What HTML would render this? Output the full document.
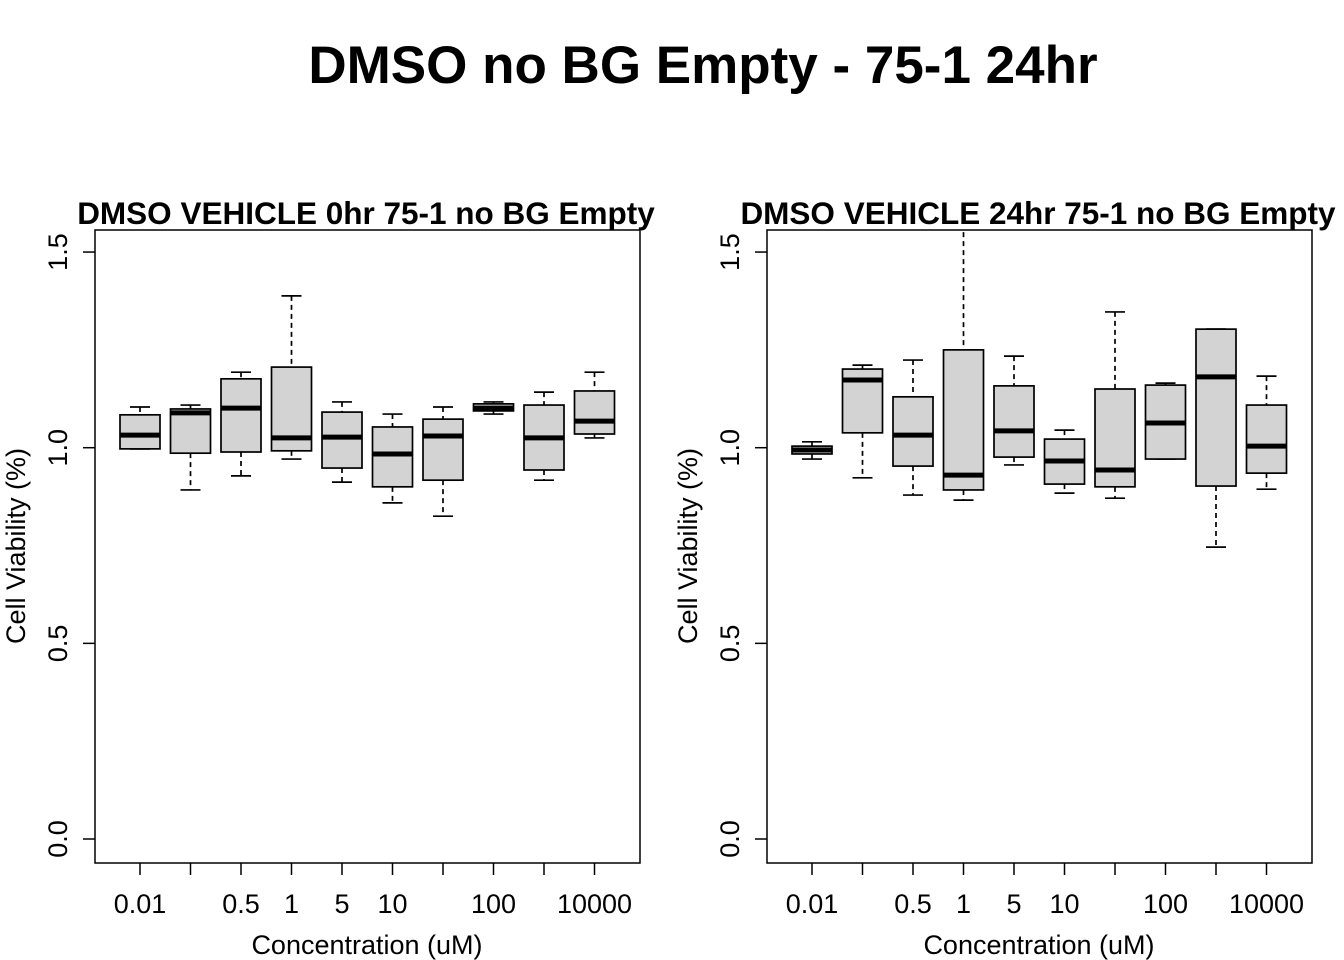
<!DOCTYPE html>
<html><head><meta charset="utf-8"><style>
body{margin:0;background:#fff}
svg{display:block;font-family:"Liberation Sans",Arial,sans-serif}
</style></head><body>
<svg id="c" width="1344" height="960">
<text x="703" y="83" text-anchor="middle" font-size="53" font-weight="bold">DMSO no BG Empty - 75-1 24hr</text>
</svg>
<script>
const categories=["0.01","0.1","0.5","1","5","10","50","100","1000","10000"];
const tickLabels=["0.01","","0.5","1","5","10","","100","","10000"];
const yTicks=[0,0.5,1,1.5];
const titles=["DMSO VEHICLE 0hr 75-1 no BG Empty","DMSO VEHICLE 24hr 75-1 no BG Empty"];
// [lowWhisker, Q1, median, Q3, highWhisker]
const left_low=[0.997,0.892,0.928,0.971,0.912,0.859,0.825,1.086,0.917,1.025];
const left_q1=[0.997,0.986,0.989,0.992,0.948,0.900,0.917,1.094,0.943,1.035];
const left_med=[1.032,1.089,1.101,1.025,1.027,0.984,1.030,1.101,1.025,1.068];
const left_q3=[1.084,1.099,1.176,1.206,1.091,1.053,1.073,1.112,1.109,1.145];
const left_high=[1.104,1.109,1.193,1.388,1.117,1.086,1.104,1.117,1.142,1.193];
const right_low=[0.971,0.923,0.879,0.866,0.956,0.884,0.871,0.971,0.746,0.894];
const right_q1=[0.984,1.038,0.953,0.892,0.976,0.907,0.900,0.971,0.902,0.935];
const right_med=[0.994,1.173,1.032,0.930,1.043,0.966,0.943,1.063,1.181,1.004];
const right_q3=[1.004,1.201,1.130,1.250,1.158,1.022,1.150,1.160,1.303,1.109];
const right_high=[1.015,1.211,1.224,1.620,1.234,1.045,1.347,1.165,1.303,1.183];
const panels=[{x0:95,low:left_low,q1:left_q1,med:left_med,q3:left_q3,high:left_high},
              {x0:767,low:right_low,q1:right_q1,med:right_med,q3:right_q3,high:right_high}];
const NS="http://www.w3.org/2000/svg",svg=document.getElementById('c');
function mk(t,a,p){const e=document.createElementNS(NS,t);for(const k in a)e.setAttribute(k,a[k]);(p||svg).appendChild(e);return e;}
const topY=230,botY=863,W=545;
const y=v=>839-v*391.3;
panels.forEach((P,pi)=>{
  const x=i=>P.x0+45+i*50.5;
  const g=mk('g',{});
  
  
  const cid='clip'+pi;
  const cp=mk('clipPath',{id:cid},g);mk('rect',{x:P.x0,y:topY,width:W,height:botY-topY},cp);
  const t=mk('text',{x:P.x0+271,y:224,'text-anchor':'middle','font-size':31.5,'font-weight':'bold'},g);t.textContent=titles[pi];
  
  
  const fr=mk('rect',{x:P.x0,y:topY,width:W,height:botY-topY,fill:'none',stroke:'#000','stroke-width':1.5},g);
  
  
  yTicks.forEach(v=>{
    mk('line',{x1:P.x0-12,x2:P.x0,y1:y(v),y2:y(v),stroke:'#000','stroke-width':1.5},g);
    const l=mk('text',{x:0,y:0,'text-anchor':'middle','font-size':27,transform:`translate(${P.x0-28},${y(v)}) rotate(-90)`},g);
    l.textContent=v.toFixed(1);
    
    
  });
  categories.forEach((c,i)=>{
    mk('line',{x1:x(i),x2:x(i),y1:botY,y2:botY+12,stroke:'#000','stroke-width':1.5},g);
    if(tickLabels[i]){const l=mk('text',{x:x(i),y:913,'text-anchor':'middle','font-size':27},g);l.textContent=tickLabels[i];
    
    }
  });
  const yt=mk('text',{x:0,y:0,'text-anchor':'middle','font-size':27,transform:`translate(${P.x0-70},546) rotate(-90)`},g);
  yt.textContent='Cell Viability (%)';
  
  
  const xt=mk('text',{x:P.x0+272,y:954,'text-anchor':'middle','font-size':27},g);
  xt.textContent='Concentration (uM)';
  
  
  const bg=mk('g',{'clip-path':`url(#${cid})`},g);
  categories.forEach((c,i)=>{
    const b=mk('g',{},bg);
    
    
    const cx=x(i),hw=20,cw=10;
    const s={stroke:'#000','stroke-width':1.7};
    mk('line',Object.assign({x1:cx,x2:cx,y1:y(P.high[i]),y2:y(P.q3[i]),'stroke-dasharray':'5,4'},s),b);
    mk('line',Object.assign({x1:cx,x2:cx,y1:y(P.q1[i]),y2:y(P.low[i]),'stroke-dasharray':'5,4'},s),b);
    mk('line',Object.assign({x1:cx-cw,x2:cx+cw,y1:y(P.high[i]),y2:y(P.high[i])},s),b);
    mk('line',Object.assign({x1:cx-cw,x2:cx+cw,y1:y(P.low[i]),y2:y(P.low[i])},s),b);
    mk('rect',Object.assign({x:cx-hw,y:y(P.q3[i]),width:2*hw,height:Math.max(0.5,y(P.q1[i])-y(P.q3[i])),fill:'#d3d3d3'},s),b);
    mk('line',{x1:cx-hw,x2:cx+hw,y1:y(P.med[i]),y2:y(P.med[i]),stroke:'#000','stroke-width':5},b);
  });
});
</script>
</body></html>
